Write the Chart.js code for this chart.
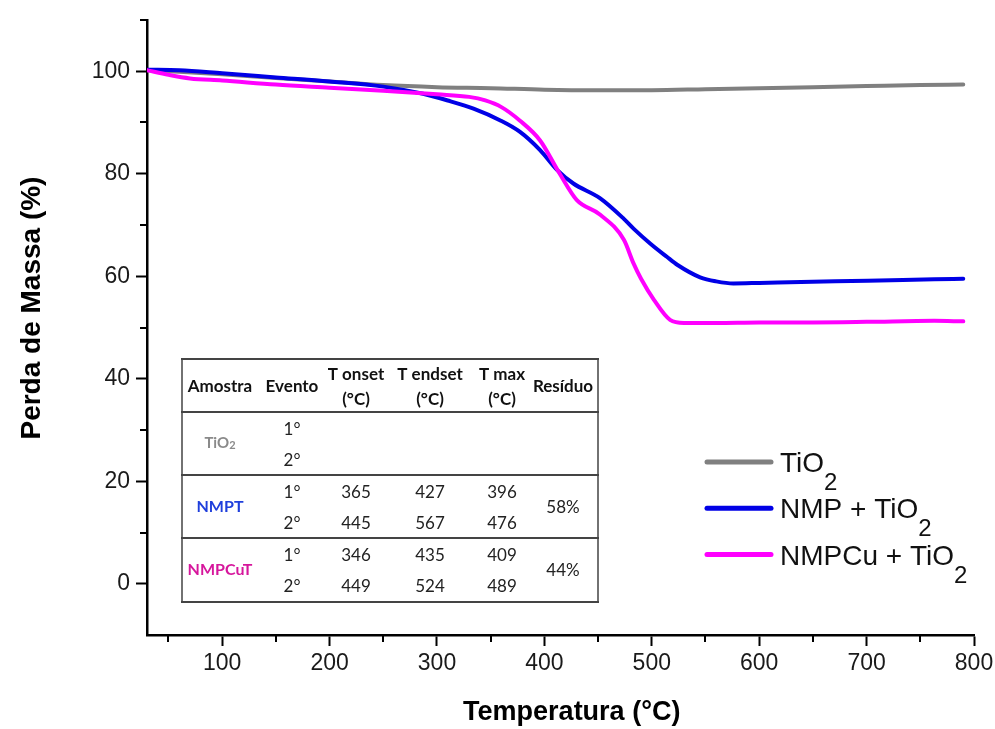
<!DOCTYPE html>
<html>
<head>
<meta charset="utf-8">
<script src="https://cdn.jsdelivr.net/npm/chart.js@4.4.1/dist/chart.umd.min.js"></script>
<style>
  html, body { margin: 0; padding: 0; background: #fff; }
  #wrap { width: 995px; height: 729px; }
</style>
</head>
<body>
<div id="wrap"><canvas id="tgaChart" width="995" height="729"></canvas></div>
<script>
// curves (temperature in °C, mass in %)
const tempTiO2 = [30, 60, 100, 150, 200, 250, 300, 350, 400, 450, 500, 550, 600, 650, 700, 750, 790];
const massTiO2 = [100.2, 99.9, 99.4, 98.7, 98.0, 97.3, 96.9, 96.7, 96.4, 96.3, 96.3, 96.5, 96.7, 96.9, 97.1, 97.3, 97.4];

const tempNMP = [30, 60, 100, 150, 200, 250, 287, 310, 334, 359, 377, 396, 412, 427, 452, 474, 483, 499, 514, 524, 545, 560, 576, 600, 639, 701, 763, 790];
const massNMP = [100.3, 100.2, 99.6, 98.8, 98.0, 97.0, 95.6, 94.3, 92.7, 90.4, 88.2, 84.6, 80.7, 78.1, 75.2, 71.2, 69.3, 66.3, 63.8, 62.2, 59.8, 59.0, 58.6, 58.7, 58.9, 59.1, 59.4, 59.5];

const tempNMPCu = [30, 50, 70, 100, 150, 200, 250, 300, 330, 345, 360, 377, 396, 414, 430, 452, 474, 483, 490, 502, 517, 530, 560, 600, 650, 700, 763, 790];
const massNMPCu = [100.2, 99.3, 98.6, 98.2, 97.4, 96.8, 96.2, 95.5, 95.0, 94.3, 93.0, 90.4, 86.5, 80.1, 74.9, 72.0, 67.1, 62.5, 59.5, 55.4, 51.5, 50.9, 50.9, 51.0, 51.0, 51.1, 51.3, 51.2];

const seriesNames = ['TiO₂', 'NMP + TiO₂', 'NMPCu + TiO₂'];
const seriesColors = ['#808080', '#0000e6', '#ff00ff'];

const xTicks = [100, 200, 300, 400, 500, 600, 700, 800];
const xMinor = [50, 150, 250, 350, 450, 550, 650, 750];
const yTicks = [0, 20, 40, 60, 80, 100];
const yMinor = [10, 30, 50, 70, 90, 110];

// inset table
const tableHead = [['Amostra'], ['Evento'], ['T onset', '(°C)'], ['T endset', '(°C)'], ['T max', '(°C)'], ['Resíduo']];
const tableSamples = ['TiO₂', 'NMPT', 'NMPCuT'];
const tableEvents = ['1°', '2°'];
const tOnset = [['', ''], ['365', '445'], ['346', '449']];
const tEndset = [['', ''], ['427', '567'], ['435', '524']];
const tMax = [['', ''], ['396', '476'], ['409', '489']];
const residue = ['', '58%', '44%'];

function toPoints(xs, ys) {
    return xs.map((x, i) => ({ x: x, y: ys[i] }));
}

// draws text where '₂' is set as a lowered "2"
function drawSubText(ctx, text, x, y, size, subSize, drop, weight, family) {
    const parts = text.split('₂');
    let cx = x;
    parts.forEach((part, i) => {
        ctx.font = `${weight} ${size}px ${family}`;
        ctx.fillText(part, cx, y);
        cx += ctx.measureText(part).width;
        if (i < parts.length - 1) {
            ctx.font = `${weight} ${subSize}px ${family}`;
            ctx.fillText('2', cx, y + drop);
            cx += ctx.measureText('2').width;
        }
    });
    return cx - x;
}

function subTextWidth(ctx, text, size, subSize, weight, family) {
    const parts = text.split('₂');
    let w = 0;
    parts.forEach((part, i) => {
        ctx.font = `${weight} ${size}px ${family}`;
        w += ctx.measureText(part).width;
        if (i < parts.length - 1) {
            ctx.font = `${weight} ${subSize}px ${family}`;
            w += ctx.measureText('2').width;
        }
    });
    return w;
}

const minorTicks = {
    id: 'minorTicks',
    afterDraw(chart) {
        const ctx = chart.ctx;
        const xs = chart.scales.x;
        const ys = chart.scales.y;
        ctx.save();
        ctx.strokeStyle = '#000';
        ctx.lineWidth = 2;
        xMinor.forEach(v => {
            const px = Math.round(xs.getPixelForValue(v));
            ctx.beginPath();
            ctx.moveTo(px, xs.top);
            ctx.lineTo(px, xs.top + 7);
            ctx.stroke();
        });
        yMinor.forEach(v => {
            const py = Math.round(ys.getPixelForValue(v));
            ctx.beginPath();
            ctx.moveTo(ys.right, py);
            ctx.lineTo(ys.right - 7, py);
            ctx.stroke();
        });
        ctx.restore();
    }
};

const customLegend = {
    id: 'customLegend',
    afterDraw(chart) {
        const ctx = chart.ctx;
        ctx.save();
        chart.data.datasets.forEach((ds, i) => {
            const y = 462 + i * 46.3;
            ctx.strokeStyle = ds.borderColor;
            ctx.lineWidth = 5;
            ctx.lineCap = 'round';
            ctx.beginPath();
            ctx.moveTo(707, y);
            ctx.lineTo(771, y);
            ctx.stroke();
            ctx.fillStyle = '#111';
            ctx.textBaseline = 'alphabetic';
            ctx.textAlign = 'left';
            drawSubText(ctx, ds.label, 780, y + 10, 28, 24, 18, 'normal', '"Liberation Sans", Arial, sans-serif');
        });
        ctx.restore();
    }
};

const insetTable = {
    id: 'insetTable',
    afterDraw(chart) {
        const ctx = chart.ctx;
        const left = 182, right = 598;
        const rows = [359, 412, 475, 538, 602];
        const colX = [220, 292, 356, 430, 502, 563];
        const font = 'Lato, "Open Sans", sans-serif';
        const sampleColors = ['#8a8a8a', '#1f3fdc', '#d6169c'];

        ctx.save();
        ctx.fillStyle = '#fff';
        ctx.fillRect(left, rows[0], right - left, rows[4] - rows[0]);

        ctx.strokeStyle = '#444';
        ctx.lineWidth = 1.5;
        ctx.beginPath();
        ctx.moveTo(left, rows[0]); ctx.lineTo(left, rows[4]);
        ctx.moveTo(right, rows[0]); ctx.lineTo(right, rows[4]);
        ctx.stroke();
        ctx.lineWidth = 2.2;
        rows.forEach(r => {
            ctx.beginPath();
            ctx.moveTo(left - 1, r);
            ctx.lineTo(right + 1, r);
            ctx.stroke();
        });

        ctx.textAlign = 'center';
        ctx.textBaseline = 'middle';
        ctx.fillStyle = '#111';
        ctx.font = `bold 17px ${font}`;
        tableHead.forEach((lines, c) => {
            if (lines.length === 1) {
                ctx.fillText(lines[0], colX[c], 387);
            } else {
                ctx.fillText(lines[0], colX[c], 375);
                ctx.fillText(lines[1], colX[c], 400);
            }
        });

        tableSamples.forEach((name, r) => {
            const top = rows[r + 1];
            const mid = (top + rows[r + 2]) / 2;
            const y1 = top + 18, y2 = top + 49;
            ctx.fillStyle = sampleColors[r];
            ctx.textAlign = 'left';
            if (r === 0) {
                const w = subTextWidth(ctx, name, 15, 11, 'bold', font);
                drawSubText(ctx, name, colX[0] - w / 2, mid, 15, 11, 2, 'bold', font);
            } else {
                ctx.font = `bold 16px ${font}`;
                const w = ctx.measureText(name).width;
                ctx.fillText(name, colX[0] - w / 2, mid);
            }
            ctx.textAlign = 'center';
            ctx.fillStyle = '#222';
            ctx.font = `17px ${font}`;
            ctx.fillText(tableEvents[0], colX[1], y1);
            ctx.fillText(tableEvents[1], colX[1], y2);
            ctx.fillText(tOnset[r][0], colX[2], y1);
            ctx.fillText(tOnset[r][1], colX[2], y2);
            ctx.fillText(tEndset[r][0], colX[3], y1);
            ctx.fillText(tEndset[r][1], colX[3], y2);
            ctx.fillText(tMax[r][0], colX[4], y1);
            ctx.fillText(tMax[r][1], colX[4], y2);
            ctx.fillText(residue[r], colX[5], mid + 1);
        });
        ctx.restore();
    }
};

new Chart(document.getElementById('tgaChart').getContext('2d'), {
    type: 'line',
    data: {
        datasets: [
            {
                label: seriesNames[0],
                data: toPoints(tempTiO2, massTiO2),
                borderColor: seriesColors[0],
                borderWidth: 4,
                order: 3
            },
            {
                label: seriesNames[1],
                data: toPoints(tempNMP, massNMP),
                borderColor: seriesColors[1],
                borderWidth: 4,
                order: 2
            },
            {
                label: seriesNames[2],
                data: toPoints(tempNMPCu, massNMPCu),
                borderColor: seriesColors[2],
                borderWidth: 4,
                order: 1
            }
        ]
    },
    options: {
        responsive: false,
        animation: false,
        devicePixelRatio: 1,
        layout: { padding: { top: 20, right: 21, left: 0, bottom: 0 } },
        elements: {
            point: { radius: 0 },
            line: { tension: 0.4, cubicInterpolationMode: 'monotone', borderCapStyle: 'round' }
        },
        plugins: {
            legend: { display: false },
            tooltip: { enabled: false }
        },
        scales: {
            x: {
                type: 'linear',
                min: 30,
                max: 800,
                afterBuildTicks: scale => { scale.ticks = xTicks.map(v => ({ value: v })); },
                afterFit: scale => {
                    scale.height = 94;
                    scale.paddingLeft = 0;
                    scale.paddingRight = 0;
                },
                border: { color: '#000', width: 2.5 },
                grid: { drawOnChartArea: false, tickLength: 11, tickWidth: 2, tickColor: '#000' },
                ticks: {
                    color: '#1a1a1a',
                    padding: 4,
                    maxRotation: 0,
                    font: { family: '"Liberation Sans", Arial, sans-serif', size: 23 }
                },
                title: {
                    display: true,
                    text: '   Temperatura (°C)',
                    color: '#000',
                    padding: { top: 0, bottom: 0 },
                    font: { family: '"Liberation Sans", Arial, sans-serif', size: 27, weight: 'bold' }
                }
            },
            y: {
                min: -10,
                max: 110,
                afterBuildTicks: scale => { scale.ticks = yTicks.map(v => ({ value: v })); },
                afterFit: scale => { scale.width = 147; },
                border: { color: '#000', width: 2.5 },
                grid: { drawOnChartArea: false, tickLength: 11, tickWidth: 2, tickColor: '#000' },
                ticks: {
                    color: '#1a1a1a',
                    padding: 6,
                    font: { family: '"Liberation Sans", Arial, sans-serif', size: 23 }
                },
                title: {
                    display: true,
                    text: '     Perda de Massa (%)',
                    color: '#000',
                    padding: { top: 15, bottom: 0 },
                    font: { family: '"Liberation Sans", Arial, sans-serif', size: 28, weight: 'bold' }
                }
            }
        }
    },
    plugins: [minorTicks, customLegend, insetTable]
});
</script>
</body>
</html>
